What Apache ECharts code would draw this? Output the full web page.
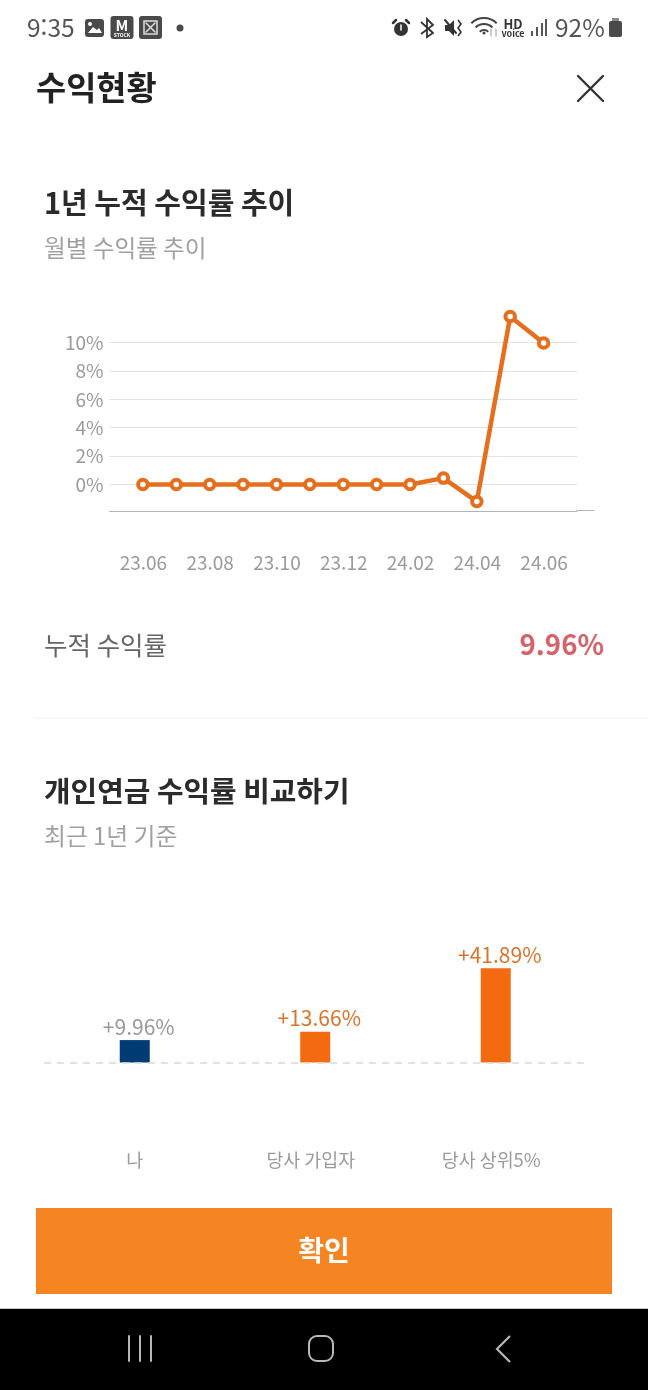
<!DOCTYPE html>
<html lang="ko">
<head>
<meta charset="UTF-8">
<title>수익현황</title>
<style>
    html, body, #chart { margin: 0; padding: 0; width: 648px; height: 1390px; background: #fff; overflow: hidden; }
</style>
</head>
<body>
<div id="chart"></div>
<script src="https://cdn.jsdelivr.net/npm/echarts@6/dist/echarts.min.js"></script>
<script>
    const FONT = '"Noto Sans CJK KR", "Noto Sans", sans-serif';

    // 1년 누적 수익률 추이
    const months = ['', '23.06', '23.07', '23.08', '23.09', '23.10', '23.11', '23.12', '24.01', '24.02', '24.03', '24.04', '24.05', '24.06', ''];
    const monthlyReturn = [null, 0, 0, 0, 0, 0, 0, 0, 0, 0, 0.45, -1.2, 11.83, 9.96, null];
    const yTicks = [0, 2, 4, 6, 8, 10];

    // 개인연금 수익률 비교하기
    const groups = ['나', '당사 가입자', '당사 상위5%'];
    const groupReturn = [9.96, 13.66, 41.89];
    const groupBarColors = ['#003b73', '#f46a10', '#f46a10'];
    const groupLabelColors = ['#999999', '#d9742b', '#d9742b'];

    function text(x, y, str, size, color, weight, align) {
        return {
            type: 'text', x, y,
            style: { text: str, font: (weight || 400) + ' ' + size + 'px ' + FONT, fill: color, align: align || 'left', verticalAlign: 'middle' }
        };
    }
    function line(x1, y1, x2, y2, color, w) {
        return { type: 'line', shape: { x1, y1, x2, y2 }, style: { stroke: color, lineWidth: w, lineCap: 'round' } };
    }
    function rect(x, y, width, height, fill, r) {
        return { type: 'rect', shape: { x, y, width, height, r: r || 0 }, style: { fill } };
    }
    function arc(cx, cy, r, color, w) {
        return { type: 'arc', shape: { cx, cy, r, startAngle: -2.35, endAngle: -0.79 }, style: { stroke: color, lineWidth: w, fill: 'none' } };
    }

    const statusIcons = [
        // 왼쪽 알림 아이콘
        rect(85, 19, 19, 18, '#4a4a4a', 3),
        { type: 'polygon', shape: { points: [[88, 33], [93, 27], [97, 30], [99, 28], [102, 33]] }, style: { fill: '#fff' } },
        { type: 'circle', shape: { cx: 90, cy: 24, r: 2 }, style: { fill: '#fff' } },
        rect(110.5, 16, 23, 23, '#4a4a4a', 3),
        text(122, 25, 'M', 15, '#fff', 700, 'center'),
        text(122, 35, 'STOCK', 5, '#fff', 700, 'center'),
        rect(139, 16, 23, 23, '#4a4a4a', 3),
        { type: 'rect', shape: { x: 144, y: 21, width: 13, height: 13 }, style: { fill: 'none', stroke: '#dddddd', lineWidth: 1.5 } },
        line(146, 23, 155, 32, '#dddddd', 1.5),
        line(155, 23, 146, 32, '#dddddd', 1.5),
        { type: 'circle', shape: { cx: 180, cy: 28, r: 3.5 }, style: { fill: '#4a4a4a' } },
        // 오른쪽 상태 아이콘
        { type: 'circle', shape: { cx: 401, cy: 29, r: 7 }, style: { fill: '#333' } },
        line(396, 20, 393, 23, '#333', 2.5),
        line(406, 20, 409, 23, '#333', 2.5),
        line(401, 25, 401, 30, '#fff', 1.5),
        { type: 'polyline', shape: { points: [[421, 22], [433, 33], [427, 37], [427, 19], [433, 25], [421, 34]] }, style: { fill: 'none', stroke: '#333', lineWidth: 1.8 } },
        { type: 'polygon', shape: { points: [[445, 25], [449, 25], [454, 20], [454, 36], [449, 31], [445, 31]] }, style: { fill: '#333' } },
        line(445, 20, 456, 33, '#333', 2),
        { type: 'polyline', shape: { points: [[458, 20], [461, 24], [458, 28], [461, 32], [458, 36]] }, style: { fill: 'none', stroke: '#333', lineWidth: 1.6 } },
        arc(484, 36, 18, '#444', 2),
        arc(484, 36, 12, '#444', 2),
        arc(484, 36, 6, '#444', 2),
        { type: 'circle', shape: { cx: 484, cy: 33, r: 1.5 }, style: { fill: '#444' } },
        line(491, 29, 491, 36, '#aaa', 1.2),
        line(496, 29, 496, 36, '#aaa', 1.2),
        text(513, 24, 'HD', 13, '#333', 700, 'center'),
        text(513, 33.5, 'voice', 9, '#333', 700, 'center'),
        rect(531, 31, 2, 5, '#555'),
        rect(536, 27, 2, 9, '#555'),
        rect(541, 23, 2, 13, '#555'),
        rect(545, 19, 2, 17, '#555'),
        text(555, 28, '92%', 24.5, '#555', 400),
        rect(609, 21, 13, 16, '#4a4a4a', 2),
        rect(612, 18, 7, 3, '#8a8a8a')
    ];

    const page = [
        // 상태바, 제목
        text(27, 28, '9:35', 24.5, '#555555'),
        ...statusIcons,
        text(36, 88, '수익현황', 32.8, '#222222', 700),
        line(578, 76, 603, 101, '#333333', 2.4),
        line(603, 76, 578, 101, '#333333', 2.4),
        // 첫번째 차트 영역
        text(44, 202.5, '1년 누적 수익률 추이', 29, '#2b2b2b', 700),
        text(44, 248, '월별 수익률 추이', 23.6, '#a0a0a0'),
        line(577, 510.5, 594, 510.5, '#b4b4b4', 1),
        text(44, 645, '누적 수익률', 25.5, '#666666'),
        text(604, 645, '9.96%', 27.6, '#d6626a', 700, 'right'),
        line(34, 718.5, 648, 718.5, '#f3f3f3', 1.5),
        // 두번째 차트 영역
        text(44, 791.5, '개인연금 수익률 비교하기', 28.9, '#2b2b2b', 700),
        text(44, 836, '최근 1년 기준', 23.8, '#a0a0a0'),
        // 버튼
        rect(36, 1208, 576, 86, '#f58423'),
        text(324, 1250, '확인', 28, '#ffffff', 700, 'center'),
        // 하단 네비게이션
        rect(0, 1309, 648, 81, '#000000'),
        line(0, 1308.5, 648, 1308.5, '#c8c8c8', 1),
        line(129, 1336, 129, 1361, '#b8b8b8', 2),
        line(140, 1336, 140, 1361, '#b8b8b8', 2),
        line(151, 1336, 151, 1361, '#b8b8b8', 2),
        { type: 'rect', shape: { x: 309, y: 1336, width: 24, height: 25, r: 8 }, style: { fill: 'none', stroke: '#b8b8b8', lineWidth: 2 } },
        { type: 'polyline', shape: { points: [[510, 1336], [497, 1349], [510, 1362]] }, style: { fill: 'none', stroke: '#b8b8b8', lineWidth: 2.2 } }
    ];

    const chart = echarts.init(document.getElementById('chart'), null, { width: 648, height: 1390 });
    chart.setOption({
        animation: false,
        backgroundColor: '#ffffff',
        textStyle: { fontFamily: FONT },
        grid: [
            { left: 109.5, width: 467.5, top: 314.1, height: 198.8 },
            { left: 44.5, width: 541.5, top: 950, height: 112.5 }
        ],
        xAxis: [
            {
                gridIndex: 0, type: 'category', data: months, boundaryGap: false, offset: -2,
                axisLine: { onZero: false, lineStyle: { color: '#b4b4b4', width: 1 } },
                axisTick: { show: false },
                axisLabel: {
                    margin: 42, fontSize: 19, color: '#9a9a9a', fontFamily: FONT, padding: [0, 0, 0, 1],
                    interval: (i) => i % 2 === 1
                },
                splitLine: { show: false }
            },
            {
                gridIndex: 1, type: 'category', data: groups, z: 5,
                axisLine: { lineStyle: { color: '#d8d8d8', width: 1.5, type: [6, 7] } },
                axisTick: { show: false },
                axisLabel: {
                    margin: 88, color: '#9a9a9a', fontFamily: FONT,
                    formatter: (v) => (v.length > 1 ? '{wide|' : '{one|') + v + '}',
                    rich: {
                        one: { fontSize: 18.4, color: '#9a9a9a', fontFamily: FONT },
                        wide: { fontSize: 18.4, color: '#9a9a9a', fontFamily: FONT, padding: [0, 9, 0, 0] }
                    }
                }
            }
        ],
        yAxis: [
            {
                gridIndex: 0, type: 'value', min: -2, max: 12, interval: 2,
                axisLine: { show: false },
                axisTick: { show: false },
                axisLabel: {
                    margin: 6, fontSize: 19, color: '#9a9a9a', fontFamily: FONT, padding: [0, 0, 3, 0],
                    formatter: (v) => yTicks.includes(v) ? v + '%' : ''
                },
                splitLine: { showMinLine: false, showMaxLine: false, lineStyle: { color: '#e2e2e2', width: 1.2 } }
            },
            { gridIndex: 1, type: 'value', min: 0, max: 50, show: false }
        ],
        series: [
            {
                type: 'line', xAxisIndex: 0, yAxisIndex: 0, data: monthlyReturn,
                clip: false, showSymbol: true, showAllSymbol: true,
                symbol: 'circle', symbolSize: 9.5,
                lineStyle: { color: '#e56f1c', width: 4.5 },
                itemStyle: { color: '#ffffff', borderColor: '#e56f1c', borderWidth: 4 }
            },
            {
                type: 'bar', xAxisIndex: 1, yAxisIndex: 1, barWidth: 30,
                data: groupReturn.map((v, i) => ({
                    value: v,
                    itemStyle: { color: groupBarColors[i] },
                    label: { color: groupLabelColors[i] }
                })),
                label: {
                    show: true, position: 'top', distance: 3, offset: [4, 0], fontSize: 21, fontFamily: FONT,
                    formatter: (p) => '+' + p.value.toFixed(2) + '%'
                }
            }
        ],
        graphic: { elements: page }
    });
</script>
</body>
</html>
